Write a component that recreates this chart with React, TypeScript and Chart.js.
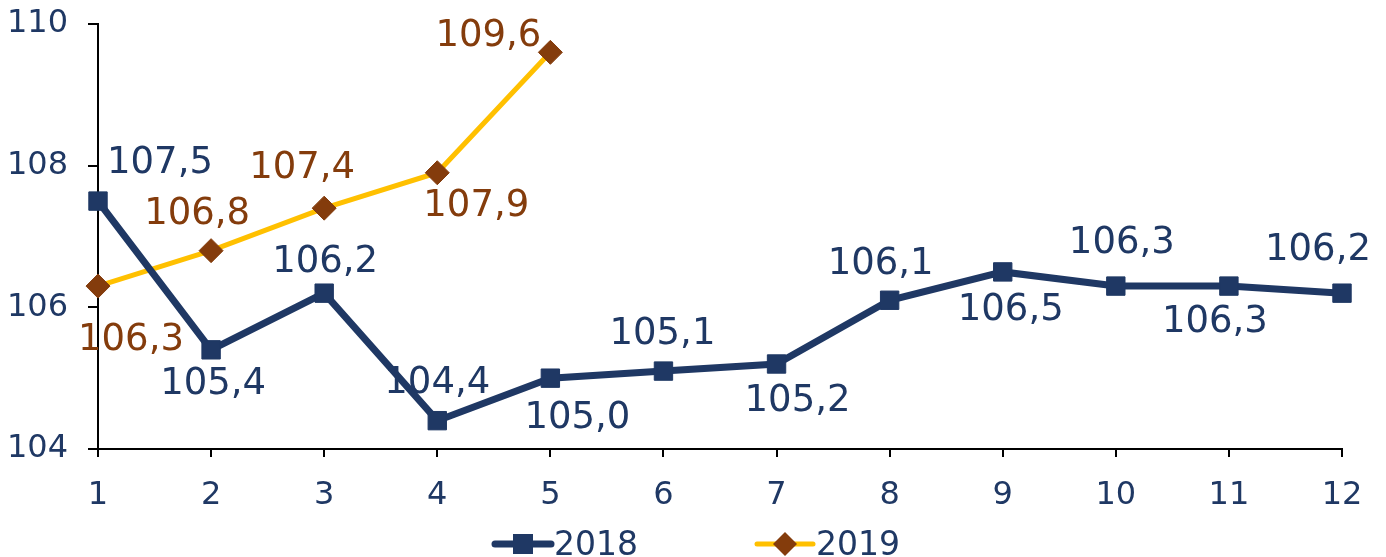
import React, { useEffect, useRef } from 'react';
import { Chart, registerables } from 'chart.js';

Chart.register(...registerables);

const months = ['1', '2', '3', '4', '5', '6', '7', '8', '9', '10', '11', '12'];
const values2018 = [107.5, 105.4, 106.2, 104.4, 105.0, 105.1, 105.2, 106.1, 106.5, 106.3, 106.3, 106.2];
const values2019 = [106.3, 106.8, 107.4, 107.9, 109.6, null, null, null, null, null, null, null];
const seriesNames = ['2018', '2019'];
const yMin = 104;
const yMax = 110;
const yStep = 2;

// label placement offsets (px) relative to each point
const labelOffsets2018: [number, number][] = [
  [62, -38], [2, 35], [1, -31], [0, -37], [27, 40], [-1, -37],
  [21, 37], [-9, -36], [8, 38], [6, -43], [-14, 36], [-24, -43],
];
const labelOffsets2019: [number, number][] = [
  [33, 54], [-14, -36], [-22, -40], [39, 34], [-62, -16],
];

const NAVY = '#1F3864';
const GOLD = '#FFC000';
const BROWN = '#843C0C';
const FONT = '"DejaVu Sans", Verdana, sans-serif';

const fmt = (v: number) => v.toFixed(1).replace('.', ',');

const labelPlugin = {
  id: 'pointLabels',
  afterDatasetsDraw(chart: any) {
    const ctx = chart.ctx;
    ctx.save();
    ctx.font = `37px ${FONT}`;
    ctx.textAlign = 'center';
    ctx.textBaseline = 'middle';
    chart.data.datasets.forEach((ds: any, di: number) => {
      const meta = chart.getDatasetMeta(di);
      const offs = di === 0 ? labelOffsets2018 : labelOffsets2019;
      ctx.fillStyle = di === 0 ? NAVY : BROWN;
      meta.data.forEach((pt: any, i: number) => {
        const v = ds.data[i];
        if (v === null || v === undefined) return;
        const o = offs[i] || [0, -36];
        ctx.fillText(fmt(v), pt.x + o[0], pt.y + o[1]);
      });
    });
    ctx.restore();
  },
};

const legendPlugin = {
  id: 'customLegend',
  afterDraw(chart: any) {
    const ctx = chart.ctx;
    ctx.save();
    const y = 544;
    const items = [
      { x: 495, line: NAVY, lw: 7, marker: NAVY, style: 'rect', text: seriesNames[0] },
      { x: 757, line: GOLD, lw: 5, marker: BROWN, style: 'rectRot', text: seriesNames[1] },
    ];
    items.forEach((it) => {
      ctx.strokeStyle = it.line;
      ctx.lineWidth = it.lw;
      ctx.lineCap = 'round';
      ctx.beginPath();
      ctx.moveTo(it.x, y);
      ctx.lineTo(it.x + 56, y);
      ctx.stroke();
      ctx.fillStyle = it.marker;
      const cx = it.x + 28;
      if (it.style === 'rect') {
        ctx.fillRect(cx - 10, y - 10, 20, 20);
      } else {
        ctx.beginPath();
        ctx.moveTo(cx, y - 12);
        ctx.lineTo(cx + 12, y);
        ctx.lineTo(cx, y + 12);
        ctx.lineTo(cx - 12, y);
        ctx.closePath();
        ctx.fill();
      }
      ctx.fillStyle = NAVY;
      ctx.font = `33px ${FONT}`;
      ctx.textAlign = 'left';
      ctx.textBaseline = 'middle';
      ctx.fillText(it.text, it.x + 59, y + 2);
    });
    ctx.restore();
  },
};

export default function App() {
  const ref = useRef<HTMLCanvasElement>(null);
  useEffect(() => {
    if (!ref.current) return;
    const chart = new Chart(ref.current, {
      type: 'line',
      data: {
        labels: months,
        datasets: [
          {
            label: seriesNames[0],
            data: values2018,
            borderColor: NAVY,
            backgroundColor: NAVY,
            borderWidth: 7,
            pointStyle: 'rect',
            pointRadius: 13,
            pointBackgroundColor: NAVY,
            pointBorderColor: NAVY,
            pointBorderWidth: 1,
            tension: 0,
            clip: false,
          },
          {
            label: seriesNames[1],
            data: values2019,
            borderColor: GOLD,
            backgroundColor: GOLD,
            borderWidth: 5,
            pointStyle: 'rectRot',
            pointRadius: 12,
            pointBackgroundColor: BROWN,
            pointBorderColor: BROWN,
            pointBorderWidth: 1,
            tension: 0,
            spanGaps: false,
            clip: false,
          },
        ],
      },
      options: {
        responsive: false,
        animation: false,
        layout: { autoPadding: false, padding: { top: 24, right: 44, bottom: 46, left: 0 } },
        plugins: {
          legend: { display: false },
          tooltip: { enabled: false },
          title: { display: false },
        },
        scales: {
          x: {
            type: 'category',
            offset: false,
            grid: {
              drawOnChartArea: false,
              drawTicks: true,
              tickLength: 8,
              color: '#000',
              lineWidth: 2,
            },
            border: { display: true, color: '#000', width: 2 },
            ticks: {
              color: NAVY,
              font: { family: FONT, size: 32 },
              padding: 19,
              maxRotation: 0,
              autoSkip: false,
            },
            afterFit: (s: any) => {
              s.height = 62;
              s.paddingLeft = 0;
              s.paddingRight = 0;
            },
          },
          y: {
            min: yMin,
            max: yMax,
            grid: {
              drawOnChartArea: false,
              drawTicks: true,
              tickLength: 10,
              color: '#000',
              lineWidth: 2,
            },
            border: { display: true, color: '#000', width: 2 },
            ticks: {
              stepSize: yStep,
              color: NAVY,
              font: { family: FONT, size: 32 },
              padding: 20,
            },
            afterFit: (s: any) => {
              s.width = 98;
              s.paddingTop = 0;
              s.paddingBottom = 0;
            },
          },
        },
      },
      plugins: [labelPlugin, legendPlugin],
    });
    return () => chart.destroy();
  }, []);
  return (
    <div style={{ position: 'absolute', left: 0, top: 0, width: 1386, height: 557, background: '#fff' }}>
      <canvas ref={ref} width={1386} height={557} style={{ display: 'block' }} />
    </div>
  );
}
